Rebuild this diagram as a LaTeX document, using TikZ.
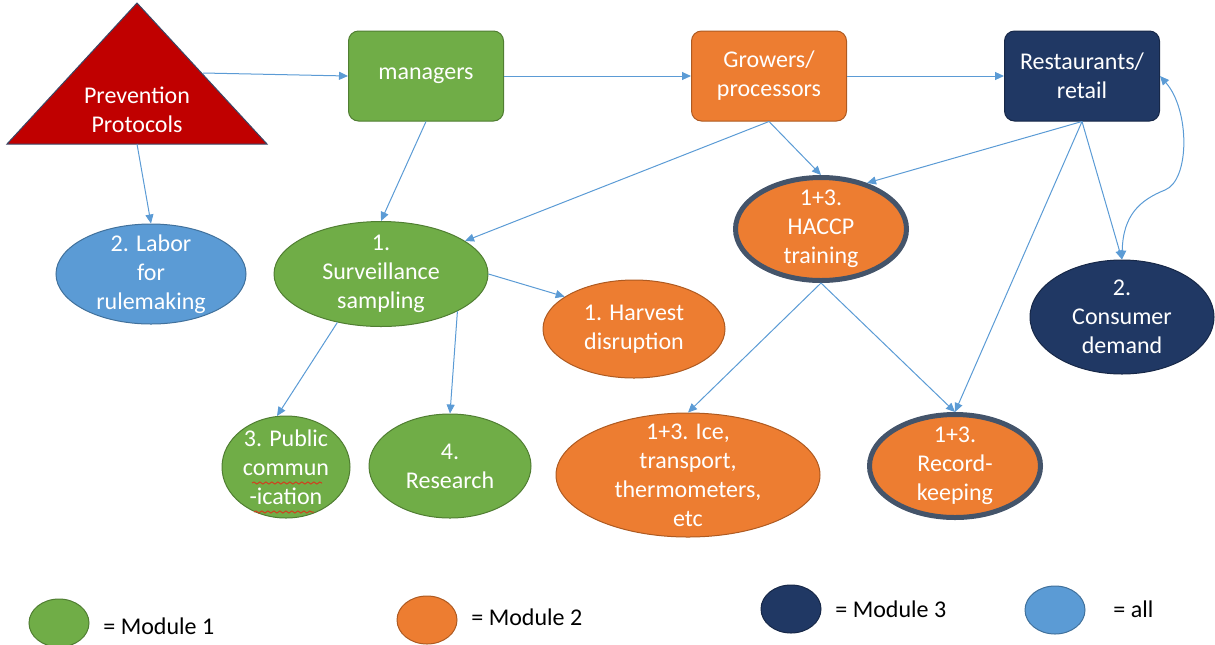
\documentclass[tikz,border=0pt]{standalone}
\usepackage{fontspec}
\setmainfont{Carlito}
\usetikzlibrary{shapes.geometric,arrows.meta,decorations.pathmorphing}
\definecolor{mgreen}{HTML}{70AD47}
\definecolor{mgreenD}{HTML}{507E32}
\definecolor{morange}{HTML}{ED7D31}
\definecolor{morangeD}{HTML}{AE5A21}
\definecolor{mnavy}{HTML}{203864}
\definecolor{mnavyD}{HTML}{172848}
\definecolor{mblue}{HTML}{5B9BD5}
\definecolor{mblueD}{HTML}{41719C}
\definecolor{mred}{HTML}{C00000}
\definecolor{triedge}{HTML}{3A4766}
\definecolor{ring}{HTML}{44546A}
\definecolor{arrowc}{HTML}{5B9BD5}
\definecolor{spell}{HTML}{D04020}
\begin{document}
\begin{tikzpicture}[x=0.5pt,y=-0.5pt,
  >={Triangle[length=4.5pt,width=4pt]},
  txt/.style={text=white,font=\fontsize{12}{14.5}\selectfont,align=center},
  box/.style={txt,rectangle,rounded corners=5pt,minimum width=77.5pt,minimum height=45pt,line width=0.5pt},
  ell/.style={txt,ellipse,inner xsep=0pt,inner ysep=-4pt,line width=0.5pt},
  ringed/.style={draw=ring,line width=2.5pt},
  conn/.style={draw=arrowc,line width=0.5pt,->},
  dbl/.style={draw=arrowc,line width=0.5pt,<->},
  leg/.style={ellipse,inner sep=0pt,minimum width=30pt,minimum height=24pt,line width=0.5pt},
  legtxt/.style={anchor=west,font=\fontsize{12}{14}\selectfont,text=black,inner sep=0pt},
  squig/.style={draw=spell,line width=0.5pt,decorate,decoration={snake,amplitude=0.5pt,segment length=3pt}}
]
\useasboundingbox (0,0) rectangle (1215,644);

% triangle
\filldraw[fill=mred,draw=triedge,line width=0.5pt] (137,3) -- (7,144) -- (267,144) -- cycle;
\node[txt] (prev) at (137,110) {Prevention\\Protocols};
\coordinate (tri-r) at (203,73);
\coordinate (tri-b) at (137,144);

% boxes
\node[box,fill=mgreen,draw=mgreenD] (mgr) at (426,76) {managers};
\node[box,fill=morange,draw=morangeD] (grow) at (769,76) {Growers/\\processors};
\node[box,fill=mnavy,draw=mnavyD] (rest) at (1082,76) {Restaurants/\\retail};

% ellipses
\node[ell,fill=mblue,draw=mblueD,minimum width=95pt,minimum height=50pt] (labor) at (151,274) {2. Labor\\for\\rulemaking};
\node[ell,fill=mgreen,draw=mgreenD,minimum width=107pt,minimum height=52.5pt] (surv) at (381,274) {1.\\Surveillance\\sampling};
\node[ell,fill=morange,draw=morangeD,minimum width=91pt,minimum height=49pt] (harv) at (634,329) {1. Harvest\\disruption};
\node[ell,fill=morange,ringed,minimum width=85.5pt,minimum height=51.5pt] (haccp) at (821,229) {1+3.\\HACCP\\training};
\node[ell,fill=mnavy,draw=mnavyD,minimum width=92pt,minimum height=57pt] (cons) at (1122,317) {2.\\Consumer\\demand};
\node[ell,fill=mgreen,draw=mgreenD,minimum width=64pt,minimum height=51pt] (pub) at (286,467) {3. Public\\commun\\-ication};
\node[ell,fill=mgreen,draw=mgreenD,minimum width=81pt,minimum height=52pt] (res) at (450,466) {4.\\Research};
\node[ell,fill=morange,draw=morangeD,minimum width=132pt,minimum height=62pt,inner ysep=-6pt] (ice) at (688,475) {1+3. Ice,\\transport,\\thermometers,\\etc};
\node[ell,fill=morange,ringed,minimum width=85.5pt,minimum height=51.5pt] (rec) at (955,466) {1+3.\\Record-\\keeping};

% spell-check underlines
\draw[squig] (252,483) -- (322,483);
\draw[squig] (254,512) -- (314,512);

% connectors
\draw[conn] (tri-r) -- (mgr.west);
\draw[conn] (mgr.east) -- (grow.west);
\draw[conn] (grow.east) -- (rest.west);
\draw[conn] (tri-b) -- (labor.north);
\draw[conn] (mgr.south) -- (surv.north);
\draw[conn] (grow.south) -- (surv);
\draw[conn] (grow.south) -- (haccp.north);
\draw[conn] (rest.south) -- (haccp.45);
\draw[conn] (rest.south) -- (cons.north);
\draw[conn] (rest.south) -- (rec.north);
\draw[conn] (surv.east) -- (harv.155);
\draw[conn] (surv.228) -- (pub.100);
\draw[conn] (surv.-26) -- (res.north);
\draw[conn] (haccp.south) -- (ice.north);
\draw[conn] (haccp.south) -- (rec.north);
\draw[dbl] (cons.north) .. controls (1123,215) and (1140,200) .. (1165,190)
           .. controls (1190,180) and (1190,110) .. (rest.east);

% legend
\node[leg,fill=mgreen,draw=mgreenD] (lg1) at (59,623) {};
\node[legtxt] (lt1) at (103,626) {= Module 1};
\node[leg,fill=morange,draw=morangeD] (lg2) at (427,620) {};
\node[legtxt] (lt2) at (471,617) {= Module 2};
\node[leg,fill=mnavy,draw=mnavyD] (lg3) at (791,609) {};
\node[legtxt] (lt3) at (835,609) {= Module 3};
\node[leg,fill=mblue,draw=mblueD] (lg4) at (1055,610) {};
\node[legtxt] (lt4) at (1113,609) {= all};
\end{tikzpicture}
\end{document}
